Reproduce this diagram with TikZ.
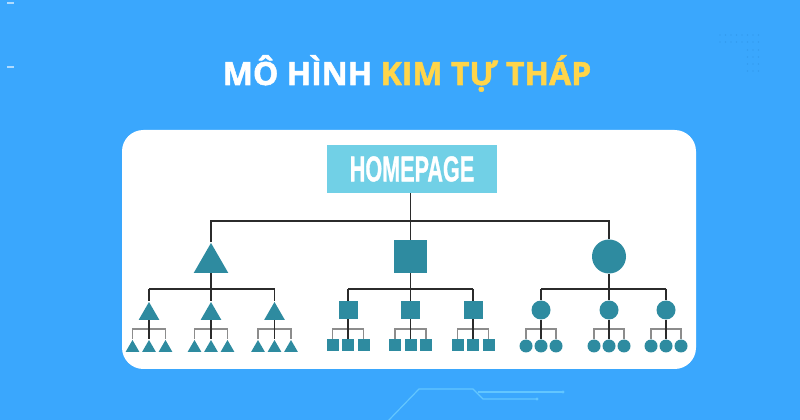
\documentclass[tikz,border=0pt]{standalone}
\usepackage{fontspec}
\usepackage{graphicx}
\setmainfont{Open Sans}
\newfontfamily\titlefont{Open Sans}[UprightFeatures={FakeBold=1.6},BoldFeatures={FakeBold=1.6}]
\newfontfamily\hpfont{Liberation Sans}[BoldFeatures={FakeBold=1.2}]
\usetikzlibrary{shapes.geometric}
\pgfdeclarelayer{bg}
\pgfdeclarelayer{lines}
\pgfsetlayers{bg,lines,main}
\definecolor{bgblue}{HTML}{3AA7FD}
\definecolor{shapeteal}{HTML}{2E8BA0}
\definecolor{hpcyan}{HTML}{71D0E6}
\definecolor{titleyellow}{HTML}{FFD54A}
\definecolor{lndark}{HTML}{2B2B2B}
\definecolor{lngray}{HTML}{8C8C8C}
\definecolor{circuit}{HTML}{62C6FF}
\definecolor{dotblue}{HTML}{2F93E6}
\begin{document}
\begin{tikzpicture}[x=0.75pt,y=-0.75pt,
  tribig/.style={regular polygon,regular polygon sides=3,fill=shapeteal,inner sep=0pt,minimum size=30pt},
  trimid/.style={regular polygon,regular polygon sides=3,fill=shapeteal,inner sep=0pt,minimum size=18pt},
  trileaf/.style={regular polygon,regular polygon sides=3,fill=shapeteal,inner sep=0pt,minimum size=12pt},
  sqbig/.style={rectangle,fill=shapeteal,inner sep=0pt,minimum size=24.75pt},
  sqmid/.style={rectangle,fill=shapeteal,inner sep=0pt,minimum width=14.25pt,minimum height=13.5pt},
  sqleaf/.style={rectangle,fill=shapeteal,inner sep=0pt,minimum size=9pt},
  cibig/.style={circle,fill=shapeteal,inner sep=0pt,minimum size=25.5pt},
  cimid/.style={circle,fill=shapeteal,inner sep=0pt,minimum size=14.25pt},
  cileaf/.style={circle,fill=shapeteal,inner sep=0pt,minimum size=9.75pt},
  hpbox/.style={rectangle,fill=hpcyan,inner sep=0pt,minimum width=127.5pt,minimum height=36pt,
    text=white,font=\hpfont\bfseries\fontsize{27}{30}\selectfont},
  dk/.style={draw=lndark,line width=1.2pt},
  gr/.style={draw=lngray,line width=1pt},
  circ/.style={draw=circuit,line width=0.9pt}
]
\useasboundingbox (0,0) rectangle (800,420);
\begin{pgfonlayer}{bg}
\fill[bgblue] (0,0) rectangle (800,420);
% decorations
\draw[white,opacity=0.6,line width=1pt] (7,3) -- (14,3);
\draw[white,opacity=0.6,line width=1pt] (7,67) -- (14,67);
\foreach \yy in {35,42} \foreach \xx in {720,725.5,731,736.5,742,747.5,753,758.5}
  \fill[dotblue] (\xx,\yy) circle (0.7);
\foreach \yy in {50,57,64,71} \foreach \xx in {747.5,753,758.5}
  \fill[dotblue] (\xx,\yy) circle (0.7);
\draw[circ] (388,421) -- (419,389) -- (473,389) -- (483,399) -- (537,399);
\fill[circuit] (537,399) circle (1.6);
\draw[circ] (478,392) -- (563,392);
\fill[circuit] (563,392) circle (1.6);
% panel
\fill[white,rounded corners=16pt] (122,130) rectangle (696,369);
\end{pgfonlayer}
% title
\node[font=\titlefont\bfseries\fontsize{24}{28}\selectfont,anchor=base,text=white] (title) at (407,85) {MÔ HÌNH \textcolor{titleyellow}{KIM TỰ THÁP}};
% homepage
\node[hpbox] (hp) at (412,169) {\scalebox{0.6}[1]{HOMEPAGE}};
% level 1
\node[tribig] (T) at (211,263) {};
\node[sqbig] (S) at (410.5,256.5) {};
\node[cibig] (C) at (609,256.5) {};
\coordinate (b0) at (0,221);
\coordinate (b1) at (0,289);
\coordinate (b2) at (0,329);
% level 2 and leaves
\foreach \i/\gx in {1/149,2/211,3/274.5}{
  \node[trimid] (t\i) at (\gx,314) {};
  \node[trileaf] (t\i a) at (\gx-16.5,348) {};
  \node[trileaf] (t\i b) at (\gx,348) {};
  \node[trileaf] (t\i c) at (\gx+16.5,348) {};
}
\foreach \i/\gx in {1/348,2/410.5,3/473}{
  \node[sqmid] (s\i) at (\gx,310) {};
  \node[sqleaf] (s\i a) at (\gx-15.5,345.5) {};
  \node[sqleaf] (s\i b) at (\gx,345.5) {};
  \node[sqleaf] (s\i c) at (\gx+15.5,345.5) {};
}
\foreach \i/\gx in {1/541,2/609,3/666}{
  \node[cimid] (c\i) at (\gx,310) {};
  \node[cileaf] (c\i a) at (\gx-15,346) {};
  \node[cileaf] (c\i b) at (\gx,346) {};
  \node[cileaf] (c\i c) at (\gx+15,346) {};
}
% connectors
\begin{pgfonlayer}{lines}
  \draw[dk] (hp.south -| S) -- (S);
  \draw[dk] (T) -- (T |- b0) -- (C |- b0) -- (C);
  \foreach \p/\q in {T/t,S/s,C/c}{
    \draw[dk] (\p) -- (\p |- b1);
    \draw[dk] (\q1 |- b1) -- (\q3 |- b1);
    \foreach \i in {1,2,3}{
      \draw[dk] (\q\i |- b1) -- (\q\i);
      \draw[gr] (\q\i a) -- (\q\i a |- b2) -- (\q\i c |- b2) -- (\q\i c);
      \draw[dk] (\q\i) -- (\q\i b);
    }
  }
\end{pgfonlayer}
\end{tikzpicture}
\end{document}
